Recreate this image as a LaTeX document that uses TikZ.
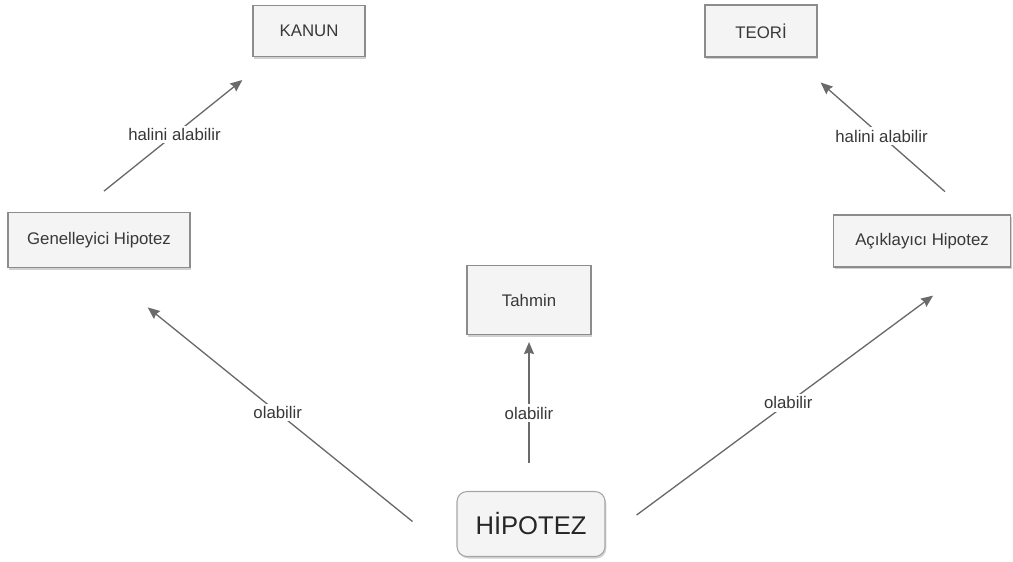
\documentclass[tikz,border=0pt]{standalone}
\usepackage{fontspec}
\setmainfont{Liberation Sans}
\usetikzlibrary{arrows.meta, positioning, calc, shadows}
\definecolor{boxgray}{HTML}{8C8C8C}
\definecolor{boxfill}{HTML}{F4F4F4}
\definecolor{linkgray}{HTML}{6A6A6A}
\definecolor{txtgray}{HTML}{383838}
\tikzset{>={Stealth[length=9pt,width=7.5pt,inset=1pt]}}
\tikzset{
  box/.style={draw=boxgray, line width=0.8pt, fill=boxfill, text=txtgray,
    font=\fontsize{12.6}{15}\selectfont,
    drop shadow={shadow xshift=1pt, shadow yshift=-1.5pt, fill=black, opacity=0.18}},
  hipbox/.style={box, draw=black!35, rounded corners=7.5pt,
    font=\fontsize{19.2}{23}\selectfont, text=black!85},
  link/.style={->, draw=linkgray, line width=1pt},
  lbl/.style={fill=white, text=txtgray, inner sep=2pt, font=\fontsize{12.6}{15}\selectfont}
}

\begin{document}
\begin{tikzpicture}[x=0.75pt, y=-0.75pt]
        \useasboundingbox (0,0) rectangle (1013,561);
        % concepts
        \node (kanun) at (309,31) [box, minimum width=84pt, minimum height=38.25pt]{KANUN};
        \node (teori) at (761,31) [box, minimum width=84pt, minimum height=39pt]{TEORİ};
        \node (gen) at (99,240) [box, minimum width=136.5pt, minimum height=41.25pt]{Genelleyici Hipotez};
        \node (acik) at (922,241) [box, minimum width=132.75pt, minimum height=39pt]{Açıklayıcı Hipotez};
        \node (tahmin) at (529,300) [box, minimum width=93pt, minimum height=51.75pt]{Tahmin};
        \node (hip) at (531,524) [hipbox, minimum width=111pt, minimum height=48.75pt]{HİPOTEZ};

        % links
        \draw [link, shorten <=25pt, shorten >=27.5pt] ($(gen.north)+(-21,0)$) -- node[lbl]{halini alabilir} ($(kanun.south west)+(18.5,0)$);
        \draw [link, shorten <=26pt, shorten >=28.4pt] ($(acik.north)+(49,0)$) -- node[lbl]{halini alabilir} ($(teori.south east)+(-25.4,0)$);
        \draw [link, shorten <=42.4pt, shorten >=47pt] (hip.south west) -- node[lbl]{olabilir} (gen.south);
        \draw [link, shorten <=21pt, shorten >=5.25pt] (hip.north -| tahmin.south) -- node[lbl]{olabilir} (tahmin.south);
        \draw [link, shorten <=29pt, shorten >=35.4pt] ($(hip.east)+(0,14)$) -- node[lbl]{olabilir} ($(acik.south)+(49,0)$);
\end{tikzpicture}
\end{document}
